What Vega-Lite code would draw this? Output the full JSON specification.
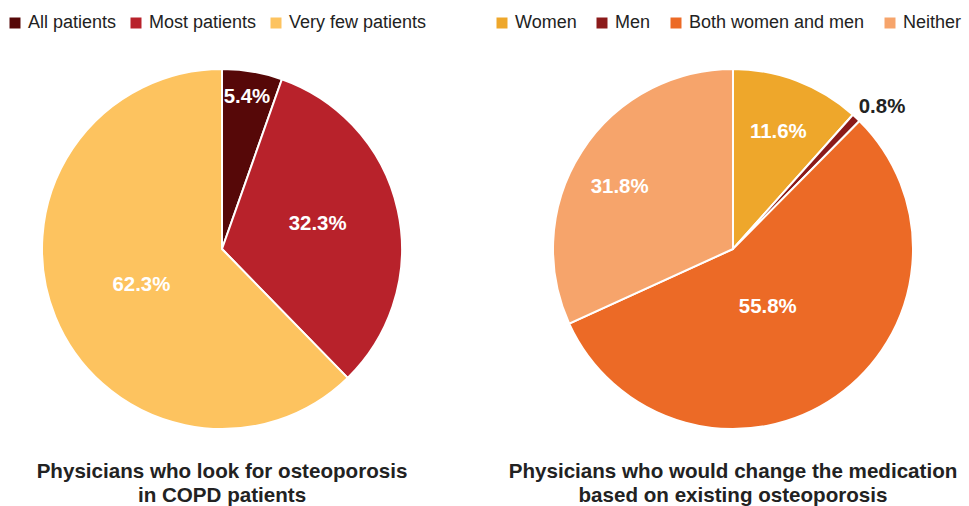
{
  "$schema": "https://vega.github.io/schema/vega-lite/v6.json",
  "padding": {"top": 14, "left": 0, "right": 0, "bottom": 0},
  "background": "white",
  "spacing": 49,
  "config": {
    "view": {"stroke": null},
    "font": "Liberation Sans",
    "legend": {"labelFontSize": 18, "labelColor": "#222222", "labelLimit": 400, "symbolType": "square", "symbolSize": 121, "symbolStrokeWidth": 0, "labelOffset": 4, "columnPadding": 13, "orient": "none", "direction": "horizontal", "title": null, "padding": 0},
    "title": {"fontSize": 20.6, "fontWeight": "bold", "color": "#222222", "orient": "bottom", "lineHeight": 24, "anchor": "middle", "frame": "group"},
    "text": {"fontSize": 20.4, "fontWeight": "bold", "color": "white"}
  },
  "resolve": {"scale": {"color": "independent"}, "legend": {"color": "independent"}},
  "hconcat": [
    {
      "width": 444,
      "height": 360,
      "title": {"text": ["Physicians who look for osteoporosis", "in COPD patients"], "offset": 29},
      "data": {"values": [
        {"category": "All patients", "value": 5.4, "rank": 1, "label": "5.4%"},
        {"category": "Most patients", "value": 32.3, "rank": 2, "label": "32.3%"},
        {"category": "Very few patients", "value": 62.3, "rank": 3, "label": "62.3%"}
      ]},
      "encoding": {
        "theta": {"field": "value", "type": "quantitative", "stack": true},
        "order": {"field": "rank", "type": "quantitative"}
      },
      "layer": [
        {
          "mark": {"type": "arc", "outerRadius": 180, "stroke": "white", "strokeWidth": 2},
          "encoding": {
            "color": {"field": "category", "type": "nominal",
              "scale": {"domain": ["All patients", "Most patients", "Very few patients"], "range": ["#560808", "#b8222b", "#fdc35f"]},
              "legend": {"legendX": 6, "legendY": -55, "columnPadding": 10}}
          }
        },
        {
          "mark": {"type": "text", "radius": 154, "dx": -1},
          "encoding": {"text": {"condition": {"test": "datum.rank == 1", "field": "label"}, "value": ""}}
        },
        {
          "mark": {"type": "text", "radius": 100, "dx": -2, "dy": -3},
          "encoding": {"text": {"condition": {"test": "datum.rank == 2", "field": "label"}, "value": ""}}
        },
        {
          "mark": {"type": "text", "radius": 87, "dy": 3},
          "encoding": {"text": {"condition": {"test": "datum.rank == 3", "field": "label"}, "value": ""}}
        }
      ]
    },
    {
      "width": 444,
      "height": 360,
      "title": {"text": ["Physicians who would change the medication", "based on existing osteoporosis"], "offset": 26},
      "data": {"values": [
        {"category": "Women", "value": 11.6, "rank": 1, "label": "11.6%"},
        {"category": "Men", "value": 0.8, "rank": 2, "label": "0.8%"},
        {"category": "Both women and men", "value": 55.8, "rank": 3, "label": "55.8%"},
        {"category": "Neither", "value": 31.8, "rank": 4, "label": "31.8%"}
      ]},
      "encoding": {
        "theta": {"field": "value", "type": "quantitative", "stack": true},
        "order": {"field": "rank", "type": "quantitative"}
      },
      "layer": [
        {
          "mark": {"type": "arc", "outerRadius": 180, "stroke": "white", "strokeWidth": 2},
          "encoding": {
            "color": {"field": "category", "type": "nominal",
              "scale": {"domain": ["Women", "Men", "Both women and men", "Neither"], "range": ["#eea72b", "#8b1a1a", "#ec6a26", "#f6a46b"]},
              "legend": {"legendX": -18, "legendY": -55, "columnPadding": 16}}
          }
        },
        {
          "mark": {"type": "text", "radius": 127, "dy": 2},
          "encoding": {"text": {"condition": {"test": "datum.rank == 1", "field": "label"}, "value": ""}}
        },
        {
          "mark": {"type": "text", "radius": 206, "color": "#222222", "dx": 8, "dy": 8},
          "encoding": {"text": {"condition": {"test": "datum.rank == 2", "field": "label"}, "value": ""}}
        },
        {
          "mark": {"type": "text", "radius": 66, "dx": -3, "dy": 4},
          "encoding": {"text": {"condition": {"test": "datum.rank == 3", "field": "label"}, "value": ""}}
        },
        {
          "mark": {"type": "text", "radius": 130, "dx": -4, "dy": 8},
          "encoding": {"text": {"condition": {"test": "datum.rank == 4", "field": "label"}, "value": ""}}
        }
      ]
    }
  ]
}
